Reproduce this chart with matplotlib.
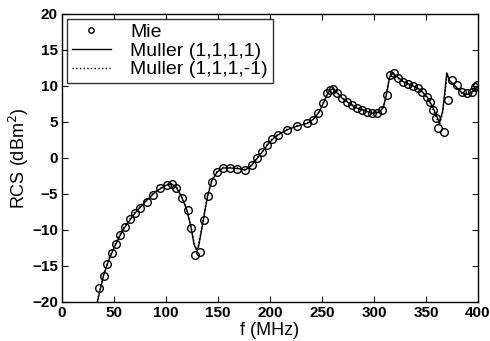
import matplotlib
matplotlib.use('Agg')
import matplotlib.pyplot as plt

# Mie reference points
mie_f = [35.6, 40.4, 43.5, 48, 52, 56, 60.6, 65, 70, 75, 81.5, 87.5, 94, 101, 105.6,
         110, 115, 121, 124, 128, 132.7, 136.5, 140, 144, 149, 155, 161.5, 168, 176,
         182.7, 187.5, 192, 197, 202, 208, 216, 226, 235.6, 241, 246, 251, 255, 258,
         261, 264, 269, 274, 279, 283.6, 288, 293, 298, 303, 308, 312.5, 315, 319,
         323, 328, 333, 337.5, 342, 346, 351, 354, 357, 360, 362, 367, 371, 375, 380,
         384.6, 389, 394, 397, 399]
mie_v = [-18.0, -16.4, -14.7, -13.2, -11.9, -10.7, -9.6, -8.5, -7.6, -6.9, -6.1, -5.1,
         -4.2, -3.75, -3.6, -4.2, -5.6, -7.2, -9.7, -13.5, -13.1, -8.6, -5.3, -3.3, -2.0,
         -1.4, -1.4, -1.5, -1.7, -1.0, 0.0, 0.8, 1.8, 2.6, 3.2, 3.9, 4.4, 4.8, 5.3, 6.25,
         7.6, 9.0, 9.4, 9.6, 9.0, 8.3, 7.8, 7.35, 6.9, 6.7, 6.4, 6.25, 6.2, 6.7, 8.75,
         11.5, 11.8, 11.1, 10.6, 10.3, 10.0, 9.7, 9.2, 8.5, 7.8, 6.7, 5.6, 4.2, 3.6, 8.1,
         10.8, 10.1, 9.2, 9.0, 9.2, 9.9, 10.1]

# Muller (1,1,1,1)
m1_f = [34, 40, 45, 50, 55, 60, 70, 80, 90, 100, 105, 110, 115, 120, 124, 127, 129, 131,
        133, 136, 140, 144, 149, 155, 162, 170, 176, 182, 188, 193, 198, 204, 210, 218,
        226, 236, 242, 247, 252, 256, 260, 264, 270, 276, 282, 290, 298, 305, 309, 312,
        315, 318, 322, 328, 336, 342, 347, 352, 356, 360, 363, 366, 368, 370, 373, 378,
        384, 389, 394, 400]
m1_v = [-20, -16.3, -14.2, -12.5, -11.0, -9.7, -7.7, -6.1, -4.7, -3.8, -3.6, -4.1, -5.4,
        -7.2, -9.6, -12.0, -12.7, -12.5, -11.0, -8.5, -5.3, -3.2, -2.0, -1.4, -1.4, -1.5,
        -1.7, -1.1, 0.0, 0.9, 1.9, 2.8, 3.4, 4.0, 4.4, 4.8, 5.4, 6.3, 7.8, 9.1, 9.6, 9.1,
        8.2, 7.6, 7.0, 6.6, 6.2, 6.3, 7.0, 8.8, 11.2, 11.8, 11.3, 10.6, 10.1, 9.7, 9.1,
        8.3, 7.2, 5.9, 4.9, 6.5, 9.0, 11.8, 10.7, 10.0, 9.1, 8.8, 9.1, 10.0]

# Muller (1,1,1,-1)
m2_f = [34, 40, 45, 50, 55, 60, 70, 80, 90, 100, 105, 110, 115, 120, 124, 127, 129, 131,
        133, 136, 140, 144, 149, 155, 162, 170, 176, 182, 188, 193, 198, 204, 210, 218,
        226, 236, 242, 247, 252, 256, 260, 264, 270, 276, 282, 290, 298, 305, 309, 312,
        315, 318, 322, 328, 336, 342, 347, 352, 356, 360, 363, 366, 368, 370, 373, 378,
        384, 389, 394, 400]
m2_v = [-19.8, -16.1, -14.0, -12.3, -10.8, -9.5, -7.5, -5.9, -4.6, -3.7, -3.6, -4.0, -5.3,
        -7.1, -9.4, -11.8, -12.5, -12.3, -10.8, -8.3, -5.2, -3.1, -1.9, -1.3, -1.3, -1.4,
        -1.6, -1.0, 0.1, 1.0, 2.0, 2.9, 3.5, 4.1, 4.5, 4.9, 5.5, 6.4, 7.9, 9.2, 9.7, 9.2,
        8.3, 7.7, 7.1, 6.7, 6.3, 6.4, 7.2, 9.0, 11.3, 11.7, 11.2, 10.5, 10.0, 9.6, 9.0,
        8.2, 7.0, 5.6, 4.6, 6.2, 8.6, 11.3, 10.5, 9.8, 9.0, 8.7, 9.0, 9.9]


def main():
    plt.rcParams['font.family'] = ['Liberation Sans', 'DejaVu Sans']
    fig = plt.figure(figsize=(4.9, 3.41), dpi=100)
    ax = fig.add_axes([0.1265, 0.1144, 0.849, 0.845])

    ax.plot(mie_f, mie_v, 'o', mfc='none', mec='k', ms=5.5, mew=1.0, label='Mie')
    ax.plot(m1_f, m1_v, 'k-', lw=1.0, label='Muller (1,1,1,1)')
    ax.plot(m2_f, m2_v, 'k:', lw=1.0, label='Muller (1,1,1,-1)')

    ax.set_xlim(0, 400)
    ax.set_ylim(-20, 20)
    ax.set_xticks(range(0, 401, 50))
    ax.set_yticks(range(-20, 21, 5))
    ax.tick_params(direction='in', top=True, right=True, length=4, width=0.8,
                   labelsize=11, pad=3)
    for lab in ax.get_xticklabels() + ax.get_yticklabels():
        lab.set_fontweight('bold')
    for s in ax.spines.values():
        s.set_linewidth(1.0)

    ax.set_xlabel('f (MHz)', fontsize=13, labelpad=1)
    ax.set_ylabel('RCS (dBm$^2$)', fontsize=13, labelpad=1)

    leg = ax.legend(loc='upper left', fontsize=14, frameon=True, fancybox=False,
                    borderaxespad=0.25, handlelength=2.0, labelspacing=0.05,
                    borderpad=0.25, handletextpad=1.0, markerscale=0.7)
    leg.get_frame().set_edgecolor('k')
    leg.get_frame().set_linewidth(1.0)

    fig.savefig('out.png', dpi=100)


if __name__ == '__main__':
    main()
